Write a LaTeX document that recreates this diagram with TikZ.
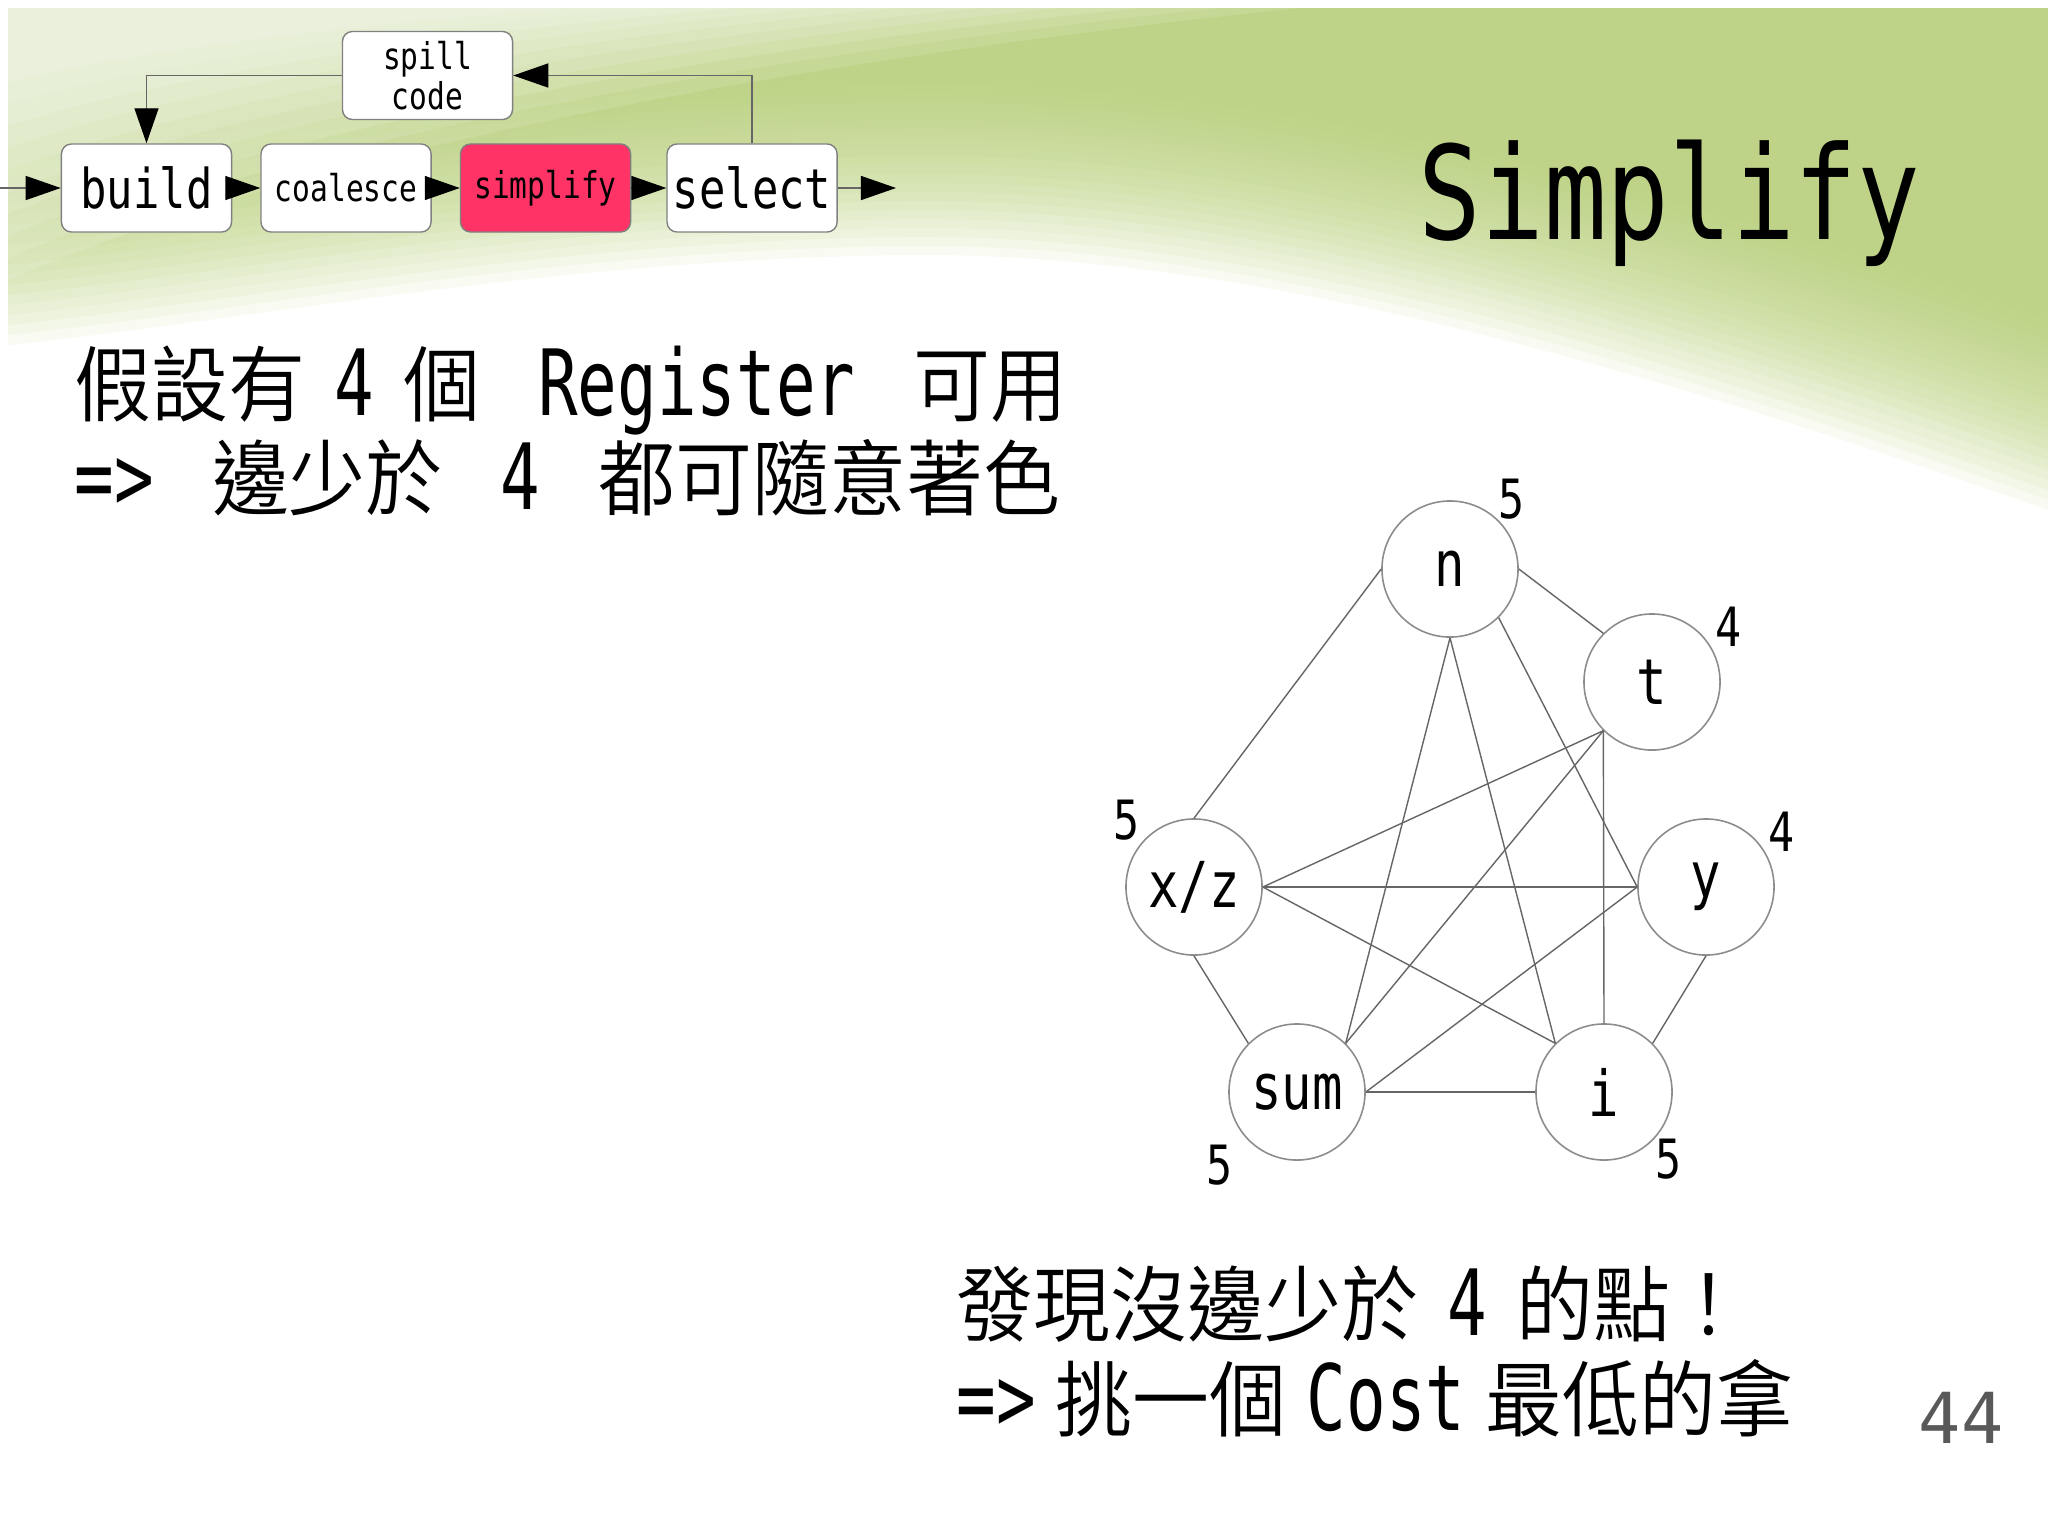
\documentclass[tikz,border=0pt]{standalone}
\usepackage{fontspec}
\setmainfont{DejaVu Sans Mono}[FakeStretch=0.8]
\newfontfamily\bodymono{DejaVu Sans Mono}[FakeStretch=0.72]
\newfontfamily\plainmono{DejaVu Sans Mono}
\newfontfamily\cjk{Noto Sans CJK TC DemiLight}[Scale=0.905, FakeStretch=0.93]
\usetikzlibrary{arrows.meta,positioning,calc}
\definecolor{slidegreen}{HTML}{B5CE71}
\definecolor{hotpink}{HTML}{FF3366}
\newcommand{\zh}[1]{{\cjk #1}}
\newcommand{\sgap}{\hspace{0.29cm}}
\newcommand{\tgap}{\hspace{0.2cm}}
\tikzset{
    flow box/.style={
        draw=black!50,
        rounded corners=0.1cm,
        fill=white,
        minimum width=1.7cm,
        minimum height=0.88cm,
        align=center,
        inner sep=1pt,
        font=\fontsize{10.5}{11.4}\selectfont
    },
    flow big/.style={flow box, font=\fontsize{15.6}{18}\selectfont},
    flow arrow/.style={-{Triangle[length=0.35cm, width=0.24cm, color=black]}, draw=black!60, line width=0.4pt},
    graph vertex/.style={circle, draw=black!45, fill=white, minimum size=1.36cm, inner sep=0pt, line width=0.45pt, font=\fontsize{18}{20}\selectfont},
    graph edge/.style={draw=black!60, line width=0.4pt},
    graph degree/.style={inner sep=0pt, font=\fontsize{15.4}{17}\selectfont},
    slide text/.style={anchor=base west, inner sep=0pt, font=\bodymono\fontsize{26}{30}\selectfont}
}

\begin{document}
\begin{tikzpicture}[x=0.01cm, y=-0.01cm]
\useasboundingbox (0,0) rectangle (2048,1536);
% background
\fill[white] (0,0) rectangle (2048,1536);
\foreach \k in {0,...,19}
  \fill[slidegreen, opacity=0.08] (8,8) -- (2048,8) -- (2048,{510-10*\k})
    .. controls (1650,{370-10*\k}) and (1250,{250-9*\k}) .. (900,{255-9*\k})
    .. controls (550,{260-9*\k}) and (250,{320-10*\k}) .. (8,{345-10*\k}) -- cycle;
\foreach \k in {0,...,9}
  \fill[white, opacity=0.12] (8,8) -- ({1300-80*\k},8)
    .. controls ({700-40*\k},{70-5*\k}) and ({260-15*\k},{170-13*\k}) .. (8,{280-22*\k}) -- cycle;

% pipeline
\node[flow big] (build) at (146.5,188) {build};
\node[flow box, right=0.28cm of build] (coalesce) {coalesce};
\node[flow box, fill=hotpink, right=0.28cm of coalesce] (simplify) {simplify};
\node[flow big, right=0.35cm of simplify] (select) {select};
\node[flow box] (spill) at (427.5,75.5) {spill\\code};
\coordinate (in) at (0,188);
\coordinate (out) at (896,188);
\draw[flow arrow] (in) -- (build);
\draw[flow arrow] (build) -- (coalesce);
\draw[flow arrow] (coalesce) -- (simplify);
\draw[flow arrow] (simplify) -- (select);
\draw[flow arrow] (select) -- (out);
\draw[flow arrow] (select.north) |- (spill.east);
\draw[flow arrow] (spill.west) -| (build.north);

% title and text
\node[anchor=base west, inner sep=0pt, font=\fontsize{37}{40}\selectfont] (title) at (1418,239) {Simplify};
\node[slide text] (assume) at (74,415) {\zh{假設有}\sgap 4\sgap\zh{個}\sgap\sgap Register\sgap\sgap\zh{可用}};
\node[slide text] (color) at (74,509) {=>\sgap\sgap\zh{邊少於}\sgap\sgap 4\sgap\sgap\zh{都可隨意著色}};
\node[slide text] (found) at (956,1335) {\zh{發現沒邊少於}\sgap 4\sgap\zh{的點！}};
\node[slide text] (pick) at (956,1430) {=>\tgap\zh{挑一個}\tgap Cost\tgap\zh{最低的拿}};
\node[anchor=base west, inner sep=0pt, text=black!65, font=\plainmono\fontsize{20}{22}\selectfont] (page) at (1918,1443) {44};

% interference graph
\node[graph vertex] (n) at (1450,569) {n};
\node[graph vertex] (t) at (1652,682) {t};
\node[graph vertex] (xz) at (1194,887) {x/z};
\node[graph vertex] (y) at (1706,887) {y};
\node[graph vertex] (sum) at (1297,1092) {sum};
\node[graph vertex] (i) at (1604,1092) {i};
\draw[graph edge] (n.west) -- (xz.north);
\draw[graph edge] (n.east) -- (t.north west);
\draw[graph edge] (n.south) -- (sum.north east);
\draw[graph edge] (n.south) -- (i.north west);
\draw[graph edge] (n.south east) -- (y.west);
\draw[graph edge] (t.south west) -- (xz.east);
\draw[graph edge] (t.south west) -- (sum.north east);
\draw[graph edge] (t.south west) -- (i.north);
\draw[graph edge] (xz.east) -- (y.west);
\draw[graph edge] (xz.east) -- (i.north west);
\draw[graph edge] (xz.south) -- (sum.north west);
\draw[graph edge] (y.west) -- (sum.east);
\draw[graph edge] (y.south) -- (i.north east);
\draw[graph edge] (sum.east) -- (i.west);
\node[graph degree] (dn) at ($(n)+(62,-70)$) {5};
\node[graph degree] (dt) at ($(t)+(77,-55)$) {4};
\node[graph degree] (dxz) at ($(xz)+(-67,-67)$) {5};
\node[graph degree] (dy) at ($(y)+(76,-55)$) {4};
\node[graph degree] (dsum) at ($(sum)+(-77,73)$) {5};
\node[graph degree] (di) at ($(i)+(65,67)$) {5};
\end{tikzpicture}
\end{document}
